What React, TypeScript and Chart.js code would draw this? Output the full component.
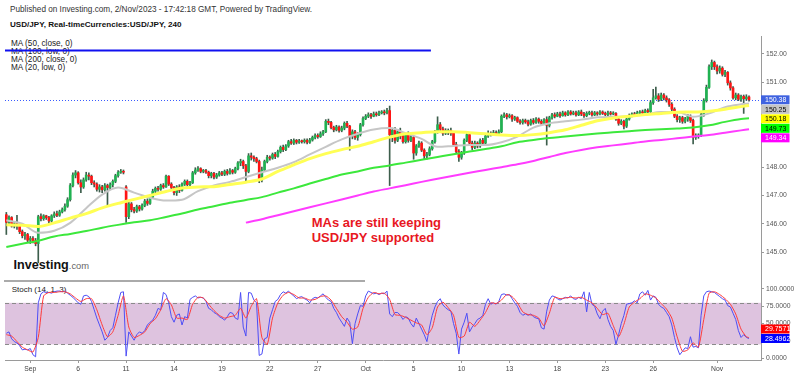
import React, { useEffect, useRef } from "react";
import { Chart, registerables } from "chart.js";

Chart.register(...registerables);

// ---------------- data (4h candles, USD/JPY) ----------------
const opens = [
  146.32,146.05,146.22,145.92,146.00,145.95,145.72,145.58,145.62,145.42,
  145.48,145.40,145.30,146.25,146.18,146.28,146.22,146.10,146.28,146.35,
  146.30,146.42,146.50,146.62,146.85,147.35,147.72,147.80,147.45,147.30,
  147.55,147.72,147.68,147.45,147.40,147.22,147.30,147.20,147.35,147.28,
  147.38,147.50,147.70,147.82,147.85,147.30,146.25,146.70,146.50,146.45,
  146.60,146.52,146.65,146.80,146.72,146.95,147.15,147.25,147.22,147.35,
  147.30,147.68,147.40,147.28,147.10,147.30,147.18,147.40,147.50,147.38,
  147.45,147.80,147.90,147.95,147.85,147.88,147.82,147.70,147.78,147.65,
  147.72,147.80,147.75,147.85,147.78,147.88,147.82,147.95,148.15,148.20,
  148.05,147.85,148.40,148.35,148.30,148.20,147.55,147.90,148.20,148.35,
  148.32,148.45,148.38,148.55,148.70,148.62,148.75,148.90,148.85,148.95,
  148.88,148.92,148.90,148.95,148.88,148.96,149.05,149.12,149.08,149.18,
  149.25,149.62,149.58,149.40,149.32,149.42,149.30,149.38,149.55,149.45,
  149.10,149.25,149.05,149.15,149.50,149.72,149.80,149.85,149.80,149.88,
  149.85,149.92,149.95,149.92,150.00,149.15,149.30,148.95,149.25,149.10,
  148.90,149.15,148.95,149.05,148.50,148.75,148.85,148.60,148.40,148.45,
  148.65,148.90,149.25,149.50,149.35,149.20,149.22,149.30,149.20,148.80,
  148.55,148.35,148.50,148.95,149.15,148.85,148.70,148.85,148.75,148.95,
  148.85,149.10,149.20,149.15,149.22,149.18,149.25,149.80,149.85,149.78,
  149.82,149.70,149.75,149.62,149.58,149.65,149.60,149.52,149.65,149.58,
  149.70,149.62,149.55,149.68,149.48,149.75,149.85,149.80,149.88,149.82,
  149.92,149.85,149.95,149.88,149.92,149.85,149.95,149.88,149.82,149.90,
  149.92,149.85,149.92,149.88,149.95,149.90,149.86,149.92,149.88,149.90,
  149.70,149.55,149.62,149.45,149.70,149.82,149.88,149.85,149.92,149.95,
  149.92,150.00,149.96,150.28,150.45,150.52,150.40,150.55,150.45,150.38,
  150.22,150.05,149.80,149.68,149.75,149.62,149.70,149.80,149.65,149.05,
  149.10,149.12,149.85,150.35,150.82,151.55,151.70,151.55,151.40,151.50,
  151.28,151.35,150.98,150.80,150.45,150.55,150.40,150.50,150.42,150.48,
];
const highs = [
  146.40,146.28,146.25,146.05,146.30,146.00,145.78,145.70,145.66,145.55,
  145.55,145.48,146.30,146.35,146.32,146.30,146.26,146.32,146.42,146.45,
  146.48,146.56,146.70,146.92,147.42,147.80,147.88,147.84,147.55,147.62,
  147.82,147.80,147.72,147.52,147.45,147.38,147.36,147.42,147.40,147.45,
  147.55,147.75,147.88,147.92,147.90,147.35,146.80,146.75,146.58,146.66,
  146.65,146.70,146.86,146.88,147.00,147.22,147.30,147.32,147.40,147.42,
  147.72,147.70,147.45,147.32,147.35,147.38,147.45,147.55,147.55,147.50,
  147.85,147.98,148.02,147.98,147.92,147.92,147.86,147.82,147.82,147.78,
  147.85,147.85,147.90,147.92,147.95,147.92,148.00,148.20,148.28,148.25,
  148.10,148.48,148.50,148.40,148.35,148.25,148.00,148.25,148.42,148.40,
  148.50,148.52,148.60,148.75,148.78,148.80,148.95,148.98,149.00,148.98,
  148.98,148.96,149.00,149.00,149.02,149.10,149.18,149.18,149.25,149.30,
  149.68,149.70,149.62,149.45,149.48,149.46,149.45,149.60,149.62,149.48,
  149.32,149.30,149.22,149.55,149.78,149.86,149.92,149.90,149.95,149.95,
  149.98,150.00,150.02,150.08,150.16,149.38,149.40,149.32,149.38,149.20,
  149.20,149.25,149.12,149.10,148.80,148.92,148.90,148.65,148.52,148.72,
  148.95,149.30,149.78,149.58,149.42,149.36,149.35,149.38,149.25,148.88,
  148.62,148.56,149.00,149.20,149.20,148.92,148.92,148.90,149.00,149.02,
  149.15,149.28,149.25,149.30,149.28,149.32,149.85,149.92,149.90,149.88,
  149.86,149.80,149.78,149.68,149.70,149.70,149.66,149.70,149.72,149.75,
  149.74,149.68,149.72,149.78,149.80,149.90,149.92,149.94,149.95,149.98,
  149.96,150.00,150.00,149.98,149.98,150.00,150.02,149.94,149.96,149.98,
  149.98,149.97,149.96,150.00,149.99,149.95,149.98,149.97,149.96,149.93,
  149.75,149.68,149.66,149.75,149.88,149.92,149.94,149.98,150.00,150.02,
  150.05,150.06,150.35,150.75,150.83,150.60,150.62,150.60,150.52,150.42,
  150.28,150.10,149.86,149.80,149.80,149.76,149.86,149.85,149.70,149.18,
  149.18,149.90,150.42,150.90,151.62,151.79,151.75,151.62,151.58,151.55,
  151.42,151.38,151.05,150.85,150.62,150.60,150.55,150.55,150.56,150.52,
];
const lows = [
  145.62,146.00,145.88,145.85,145.80,145.65,145.50,145.45,145.36,145.30,
  145.32,145.22,144.62,146.10,146.12,146.15,146.02,146.05,146.22,146.25,
  146.26,146.38,146.44,146.58,146.80,147.30,147.62,147.40,147.10,147.25,
  147.50,147.55,147.38,147.30,147.15,147.12,147.10,147.15,146.62,147.20,
  147.30,147.45,147.65,147.78,147.76,146.05,146.18,146.42,146.38,146.40,
  146.45,146.48,146.60,146.65,146.68,146.90,147.10,147.15,147.18,147.25,
  147.28,147.35,147.20,147.02,147.00,147.10,147.15,147.35,147.32,147.35,
  147.42,147.75,147.85,147.80,147.80,147.78,147.62,147.62,147.58,147.60,
  147.68,147.70,147.70,147.72,147.75,147.76,147.78,147.90,148.05,147.95,
  147.48,147.80,148.25,148.20,148.15,147.45,147.48,147.85,148.15,148.25,
  148.28,148.30,148.35,148.50,148.55,148.58,148.70,148.80,148.80,148.82,
  148.84,148.85,148.85,148.82,148.84,148.92,149.00,149.02,149.05,149.12,
  149.22,149.50,149.35,149.25,149.28,149.24,149.25,149.32,149.40,148.60,
  149.00,148.98,148.95,149.10,149.45,149.68,149.75,149.72,149.78,149.80,
  149.82,149.88,149.85,149.88,147.35,148.90,148.85,148.90,149.00,148.85,
  148.85,148.88,148.90,148.28,148.42,148.70,148.55,148.30,148.28,148.40,
  148.60,148.85,149.20,149.28,149.12,149.15,149.15,149.12,148.75,148.48,
  148.20,148.28,148.45,148.90,148.78,148.62,148.65,148.68,148.70,148.80,
  148.82,149.05,149.10,149.12,149.12,149.15,149.22,149.75,149.70,149.74,
  149.62,149.65,149.58,149.52,149.52,149.55,149.46,149.48,149.52,149.55,
  149.55,149.50,149.50,148.78,149.42,149.70,149.74,149.78,149.76,149.80,
  149.80,149.82,149.84,149.85,149.80,149.82,149.82,149.76,149.78,149.85,
  149.80,149.82,149.83,149.85,149.86,149.82,149.80,149.84,149.85,149.65,
  149.48,149.50,149.35,149.40,149.66,149.78,149.80,149.82,149.88,149.88,
  149.90,149.92,149.92,150.22,150.40,150.32,150.35,150.38,150.30,150.15,
  149.98,149.75,149.60,149.58,149.55,149.56,149.62,149.58,148.82,148.98,
  149.02,149.08,149.80,150.30,150.78,151.45,151.45,151.30,151.32,151.22,
  151.20,150.90,150.72,150.40,150.38,150.35,150.32,149.90,150.36,150.33,
];
const closes = [
  146.05,146.22,145.92,146.00,145.95,145.72,145.58,145.62,145.42,145.48,
  145.40,145.30,146.25,146.18,146.28,146.22,146.10,146.28,146.35,146.30,
  146.42,146.50,146.62,146.85,147.35,147.72,147.80,147.45,147.30,147.55,
  147.72,147.68,147.45,147.40,147.22,147.30,147.20,147.35,147.28,147.38,
  147.50,147.70,147.82,147.85,147.82,146.25,146.70,146.50,146.45,146.60,
  146.52,146.65,146.80,146.72,146.95,147.15,147.25,147.22,147.35,147.30,
  147.68,147.40,147.28,147.10,147.30,147.18,147.40,147.50,147.38,147.45,
  147.80,147.90,147.95,147.85,147.88,147.82,147.70,147.78,147.65,147.72,
  147.80,147.75,147.85,147.78,147.88,147.82,147.95,148.15,148.20,148.05,
  147.85,148.40,148.35,148.30,148.20,147.55,147.90,148.20,148.35,148.32,
  148.45,148.38,148.55,148.70,148.62,148.75,148.90,148.85,148.95,148.88,
  148.92,148.90,148.95,148.88,148.96,149.05,149.12,149.08,149.18,149.25,
  149.62,149.58,149.40,149.32,149.42,149.30,149.38,149.55,149.45,149.10,
  149.25,149.05,149.15,149.50,149.72,149.80,149.85,149.80,149.88,149.85,
  149.92,149.95,149.92,150.00,149.15,149.30,148.95,149.25,149.10,148.90,
  149.15,148.95,149.05,148.50,148.75,148.85,148.60,148.40,148.45,148.65,
  148.90,149.25,149.50,149.35,149.20,149.30,149.30,149.20,148.80,148.55,
  148.35,148.50,148.95,149.15,148.85,148.70,148.85,148.75,148.95,148.85,
  149.10,149.20,149.15,149.22,149.18,149.25,149.80,149.85,149.78,149.82,
  149.70,149.75,149.62,149.58,149.65,149.60,149.52,149.65,149.58,149.70,
  149.62,149.55,149.68,149.48,149.75,149.85,149.80,149.88,149.82,149.92,
  149.85,149.95,149.88,149.92,149.85,149.95,149.88,149.82,149.90,149.92,
  149.85,149.92,149.88,149.95,149.90,149.86,149.92,149.88,149.90,149.70,
  149.55,149.62,149.45,149.70,149.82,149.88,149.85,149.92,149.95,149.92,
  150.00,149.96,150.28,150.45,150.52,150.40,150.55,150.45,150.38,150.22,
  150.05,149.80,149.68,149.75,149.62,149.70,149.80,149.65,149.05,149.10,
  149.12,149.85,150.35,150.82,151.55,151.70,151.55,151.40,151.50,151.28,
  151.35,150.98,150.80,150.45,150.55,150.40,150.50,150.42,150.48,150.38,
];

// moving averages, one reading per trading day (every 6th candle) + the last candle
const ma50Close = [
  145.96,145.95,145.90,146.03,146.20,146.36,146.56,146.72,146.86,147.00,
  147.14,147.26,147.30,147.31,147.39,147.47,147.58,147.85,148.08,148.30,
  148.48,148.62,148.74,148.90,149.06,149.18,149.22,149.25,149.25,149.22,
  149.18,149.14,149.12,149.15,149.22,149.32,149.48,149.64,149.74,149.80,
  149.86,149.90,149.94,149.95,149.98,150.05,150.14,150.18,
];
const ma20Low = [
  146.12,146.00,145.68,145.75,146.03,146.55,147.03,147.28,147.10,146.92,
  146.82,146.85,147.15,147.35,147.48,147.65,147.82,147.98,148.18,148.45,
  148.72,148.98,149.18,149.33,149.38,149.20,149.00,148.72,148.75,148.78,
  148.78,148.88,149.08,149.40,149.55,149.62,149.68,149.76,149.78,149.80,
  149.86,149.95,149.95,149.78,149.90,150.12,150.22,150.25,
];
const ma100Low = [
  145.18,145.29,145.40,145.55,145.64,145.74,145.86,145.96,146.05,146.12,
  146.24,146.36,146.50,146.62,146.74,146.84,146.94,147.10,147.25,147.42,
  147.58,147.74,147.85,147.98,148.06,148.16,148.26,148.36,148.46,148.55,
  148.64,148.74,148.88,148.96,149.03,149.08,149.14,149.19,149.23,149.27,
  149.31,149.34,149.37,149.40,149.48,149.60,149.70,149.73,
];
const ma200Close = [
  null,null,null,null,null,null,null,null,null,null,
  null,null,null,null,null,146.04,146.16,146.30,146.44,146.58,
  146.72,146.86,147.00,147.14,147.25,147.36,147.48,147.59,147.70,147.80,
  147.90,148.00,148.10,148.22,148.36,148.50,148.61,148.70,148.77,148.84,
  148.91,148.96,149.02,149.08,149.14,149.22,149.30,149.34,
];

// Stochastic (14, 1, 3): %K per candle, %D every 2nd candle + the last candle
const stochK = [
  36,38,28,24,22,18,12,13,12,14,
  5,2,80,93,96,95,95,94,96,97,
  97,96,97,94,91,88,84,80,78,90,
  91,89,82,70,58,48,38,26,30,40,
  44,62,80,95,96,3,38,32,26,34,
  38,36,40,48,52,55,62,72,70,95,
  92,80,60,52,62,64,48,60,58,85,
  88,90,87,88,87,82,72,70,66,64,
  60,58,55,60,66,65,58,56,95,45,
  32,95,94,84,80,4,6,28,30,58,
  70,82,85,92,96,94,97,93,90,86,
  88,89,86,84,80,86,88,87,90,93,
  88,84,82,72,66,58,52,46,58,52,
  21,50,64,76,75,90,97,95,93,94,
  92,94,93,97,64,60,66,66,62,56,
  60,58,50,45,58,50,42,34,24,45,
  62,74,82,86,77,73,70,68,50,36,
  6,42,52,65,38,45,50,56,58,62,
  78,86,78,80,78,82,92,93,91,92,
  86,80,75,66,62,64,62,64,60,58,
  57,44,42,68,84,90,89,86,84,86,
  88,87,90,86,85,88,86,96,67,95,
  78,75,64,57,68,72,56,46,40,20,
  34,50,62,78,79,80,83,80,93,96,
  91,98,84,90,88,78,74,72,66,60,
  48,30,15,5,10,15,14,31,16,17,
  15,62,90,96,97,96,95,92,89,86,
  84,76,74,65,56,40,30,34,30,28.4962,
];
const stochD = [
  34,32,24,16,12,9,30,90,95,95,
  96,96,93,87,82,86,86,70,48,31,
  38,62,90,45,30,33,38,50,57,70,
  86,77,58,58,56,78,88,87,78,69,
  62,58,60,62,72,58,75,86,30,20,
  58,80,91,95,92,87,87,84,85,89,
  90,84,72,60,52,42,45,72,88,95,
  93,94,85,63,62,59,55,51,48,34,
  44,74,81,73,62,30,32,52,46,55,
  66,80,79,84,92,89,80,67,63,62,
  58,47,65,88,86,87,88,87,88,84,
  80,72,63,65,47,31,49,74,81,86,
  93,91,87,79,71,58,31,10,12,22,
  16,56,94,96,92,86,78,64,42,31,
  29.7571,
];

const priceTicks = [145, 146, 147, 148, 149, 150, 151, 152];
const stochTicks = [0, 25, 50, 75, 100];
const dateTickIndex = [9, 27, 45, 63, 81, 99, 117, 135, 153, 171, 189, 207, 225, 243, 267];
const dateTickLabels = ["Sep", "6", "11", "14", "19", "22", "27", "Oct", "5", "10", "13", "18", "23", "26", "Nov"];

const trendLevel = 152.12;
const legendLines = ["MA (50, close, 0)", "MA (100, low, 0)", "MA (200, close, 0)", "MA (20, low, 0)"];
const priceTags = [
  { value: 150.38, text: "150.38", bg: "#3f62e0", fg: "#ffffff" },
  { value: 150.25, text: "150.25", bg: "#c4c4c4", fg: "#000000" },
  { value: 150.18, text: "150.18", bg: "#ffff00", fg: "#000000" },
  { value: 149.73, text: "149.73", bg: "#00ff00", fg: "#000000" },
  { value: 149.34, text: "149.34", bg: "#ff00ff", fg: "#ffffff" },
];
const stochTags = [
  { value: 29.7571, text: "29.7571", bg: "#ff0000", fg: "#ffffff" },
  { value: 28.4962, text: "28.4962", bg: "#0000ff", fg: "#ffffff" },
];

// ---------------- layout / style ----------------
const FONT = '"Liberation Sans", Arial, Helvetica, sans-serif';
const SLOTS = 284; // 280 candles + empty right margin
const LAST = closes.length - 1;
const AXIS_W = 39;
const UP = "#20b251";
const DOWN = "#ff1414";
const WICK = "#3d5e4c";
const AXIS_COLOR = "#9a9a9a";
const TICK_FONT = { family: FONT, size: 6.8 };

const PRICE_MIN = 143.976;
const PRICE_MAX = 152.636;
const STOCH_MIN = -2.6;
const STOCH_MAX = 111.56;

const maXY = (vals: (number | null)[], step: number) =>
  vals.map((v, k) => ({ x: k === vals.length - 1 ? LAST : k * step, y: v }));

function drawTags(chart: any, scaleId: string, tags: any[], dir: "down" | "up") {
  const { ctx, chartArea } = chart;
  const s = chart.scales[scaleId];
  const H = 9;
  const GAP = 9.5;
  const ys = tags.map((t) => s.getPixelForValue(t.value));
  if (dir === "down") {
    for (let k = 1; k < ys.length; k++) ys[k] = Math.max(ys[k], ys[k - 1] + GAP);
  } else {
    for (let k = ys.length - 2; k >= 0; k--) ys[k] = Math.min(ys[k], ys[k + 1] - GAP);
  }
  ctx.save();
  ctx.font = `7px ${FONT}`;
  ctx.textBaseline = "middle";
  ctx.textAlign = "left";
  tags.forEach((t, k) => {
    ctx.fillStyle = t.bg;
    ctx.fillRect(chartArea.right, ys[k] - H / 2, 28.5, H);
    ctx.fillStyle = t.fg;
    ctx.fillText(t.text, chartArea.right + 4, ys[k] + 0.5);
  });
  ctx.restore();
}

const yAxisCommon = (min: number, max: number, ticks: number[], digits: number) => ({
  type: "linear",
  position: "right",
  min,
  max,
  afterFit: (s: any) => {
    s.width = AXIS_W;
  },
  afterBuildTicks: (s: any) => {
    s.ticks = ticks.map((v) => ({ value: v }));
  },
  ticks: {
    callback: (v: any) => Number(v).toFixed(digits),
    font: TICK_FONT,
    color: "#555555",
    padding: 2,
  },
  grid: { display: true, drawOnChartArea: false, drawTicks: true, tickLength: 3, color: AXIS_COLOR },
  border: { display: true, color: AXIS_COLOR },
});

function Txt(props: any) {
  const { x, y, size, bold, color, children, style } = props;
  return (
    <div
      style={{
        position: "absolute",
        left: x,
        top: y,
        fontFamily: FONT,
        fontSize: size,
        lineHeight: 1,
        fontWeight: bold ? 700 : 400,
        color: color || "#222",
        whiteSpace: "nowrap",
        ...style,
      }}
    >
      {children}
    </div>
  );
}

export default function App() {
  const mainRef = useRef<HTMLCanvasElement>(null);
  const stochRef = useRef<HTMLCanvasElement>(null);

  useEffect(() => {
    const charts: Chart[] = [];

    const wickData = highs.map((h, i) => ({ x: i, y: [lows[i], h] }));
    const bodyData = opens.map((o, i) => ({ x: i, y: [o, closes[i]] }));
    const bodyColors = opens.map((o, i) => (closes[i] >= o ? UP : DOWN));

    const lineDs = (data: any[], color: string, width: number, order: number) => ({
      type: "line",
      data,
      borderColor: color,
      borderWidth: width,
      pointRadius: 0,
      fill: false,
      cubicInterpolationMode: "monotone",
      order,
    });

    if (mainRef.current) {
      charts.push(
        new Chart(mainRef.current, {
          type: "bar",
          data: {
            datasets: [
              { type: "bar", data: wickData, backgroundColor: WICK, barThickness: 1, grouped: false, order: 20 } as any,
              {
                type: "bar",
                data: bodyData,
                backgroundColor: bodyColors,
                barThickness: 2,
                grouped: false,
                minBarLength: 1,
                order: 19,
              } as any,
              lineDs(maXY(ma100Low, 6), "#3ce83c", 2, 5),
              lineDs(maXY(ma200Close, 6), "#ff3cff", 2, 4),
              lineDs(maXY(ma20Low, 6), "#c6c6c6", 2, 3),
              lineDs(maXY(ma50Close, 6), "#ffff55", 3, 2),
              {
                type: "line",
                data: [
                  { x: -0.5, y: trendLevel },
                  { x: 159.5, y: trendLevel },
                ],
                borderColor: "#1010f0",
                borderWidth: 2,
                pointRadius: 0,
                order: 1,
              } as any,
            ] as any,
          },
          options: {
            responsive: false,
            devicePixelRatio: 1,
            animation: false,
            events: [],
            layout: { padding: { left: 5, right: 0, top: 36, bottom: 19 } },
            plugins: { legend: { display: false }, tooltip: { enabled: false } },
            scales: {
              x: { type: "linear", min: -0.5, max: SLOTS - 0.5, offset: false, display: false },
              y: yAxisCommon(PRICE_MIN, PRICE_MAX, priceTicks, 2) as any,
            },
          } as any,
          plugins: [
            {
              id: "priceDecor",
              beforeDatasetsDraw(chart: any) {
                const { ctx, chartArea } = chart;
                const y = chart.scales.y.getPixelForValue(closes[LAST]);
                ctx.save();
                ctx.strokeStyle = "#3a5cff";
                ctx.lineWidth = 1;
                ctx.setLineDash([1, 2]);
                ctx.beginPath();
                ctx.moveTo(chartArea.left, Math.round(y) + 0.5);
                ctx.lineTo(chartArea.right, Math.round(y) + 0.5);
                ctx.stroke();
                ctx.restore();
              },
              afterDraw(chart: any) {
                drawTags(chart, "y", priceTags, "down");
              },
            },
          ],
        })
      );
    }

    if (stochRef.current) {
      charts.push(
        new Chart(stochRef.current, {
          type: "line",
          data: {
            datasets: [
              {
                data: stochK.map((v, i) => ({ x: i, y: v })),
                borderColor: "#4e4ef6",
                borderWidth: 1,
                pointRadius: 0,
                tension: 0,
                order: 2,
              },
              {
                data: maXY(stochD, 2),
                borderColor: "#ff3b3b",
                borderWidth: 1,
                pointRadius: 0,
                tension: 0.2,
                order: 1,
              },
            ] as any,
          },
          options: {
            responsive: false,
            devicePixelRatio: 1,
            animation: false,
            events: [],
            layout: { padding: { left: 5, right: 0, top: 15, bottom: 0 } },
            plugins: { legend: { display: false }, tooltip: { enabled: false } },
            scales: {
              x: {
                type: "linear",
                min: -0.5,
                max: SLOTS - 0.5,
                offset: false,
                position: "bottom",
                afterFit: (s: any) => {
                  s.height = 16;
                },
                afterBuildTicks: (s: any) => {
                  s.ticks = dateTickIndex.map((v) => ({ value: v }));
                },
                ticks: {
                  autoSkip: false,
                  maxRotation: 0,
                  minRotation: 0,
                  callback: (_v: any, idx: number) => dateTickLabels[idx],
                  font: TICK_FONT,
                  color: "#444444",
                  padding: 2,
                },
                grid: { display: true, drawOnChartArea: false, drawTicks: true, tickLength: 3, color: AXIS_COLOR },
                border: { display: true, color: AXIS_COLOR },
              },
              y: yAxisCommon(STOCH_MIN, STOCH_MAX, stochTicks, 4) as any,
            },
          } as any,
          plugins: [
            {
              id: "stochDecor",
              beforeDatasetsDraw(chart: any) {
                const { ctx, chartArea } = chart;
                const s = chart.scales.y;
                const y80 = s.getPixelForValue(80);
                const y20 = s.getPixelForValue(20);
                ctx.save();
                ctx.fillStyle = "#dec3df";
                ctx.fillRect(chartArea.left, y80, chartArea.right - chartArea.left, y20 - y80);
                ctx.strokeStyle = "#8a8a8a";
                ctx.lineWidth = 1;
                ctx.setLineDash([4, 3]);
                [y80, y20].forEach((y) => {
                  ctx.beginPath();
                  ctx.moveTo(chartArea.left, Math.round(y) + 0.5);
                  ctx.lineTo(chartArea.right, Math.round(y) + 0.5);
                  ctx.stroke();
                });
                ctx.restore();
              },
              afterDraw(chart: any) {
                drawTags(chart, "y", stochTags, "up");
              },
            },
          ],
        })
      );
    }

    return () => charts.forEach((c) => c.destroy());
  }, []);

  return (
    <div
      style={{
        position: "fixed",
        left: 0,
        top: 0,
        width: 800,
        height: 376,
        background: "#ffffff",
        overflow: "hidden",
      }}
    >
      <Txt x={10} y={6.2} size={8.2} color="#333">
        Published on Investing.com, 2/Nov/2023 - 17:42:18 GMT, Powered by TradingView.
      </Txt>
      <Txt x={10} y={20.8} size={8.1} bold color="#111">
        USD/JPY, Real-timeCurrencies:USD/JPY, 240
      </Txt>
      {legendLines.map((t, k) => (
        <Txt key={t} x={11} y={40.4 + k * 8} size={8.2} color="#222">
          {t}
        </Txt>
      ))}
      <Txt x={11.7} y={286.2} size={8} color="#222">
        Stoch (14, 1, 3)
      </Txt>
      <div
        style={{
          position: "absolute",
          left: 13.5,
          top: 258,
          fontFamily: FONT,
          lineHeight: "12px",
          whiteSpace: "nowrap",
        }}
      >
        <span style={{ fontSize: 12.6, fontWeight: 700, color: "#111" }}>Investing</span>
        <span style={{ fontSize: 9.4, color: "#666" }}>.com</span>
      </div>
      <div
        style={{
          position: "absolute",
          left: 311.7,
          top: 215.3,
          fontFamily: FONT,
          fontSize: 13,
          fontWeight: 700,
          lineHeight: "15px",
          color: "#e8171f",
          whiteSpace: "nowrap",
        }}
      >
        MAs are still keeping
        <br />
        USD/JPY supported
      </div>
      <div style={{ position: "absolute", left: 4, top: 280, width: 361, height: 1.5, background: "#aaaaaa" }} />
      <canvas
        ref={mainRef}
        width={800}
        height={300}
        style={{ position: "absolute", left: 0, top: 0, width: 800, height: 300 }}
      />
      <canvas
        ref={stochRef}
        width={800}
        height={110}
        style={{ position: "absolute", left: 0, top: 266, width: 800, height: 110 }}
      />
    </div>
  );
}
